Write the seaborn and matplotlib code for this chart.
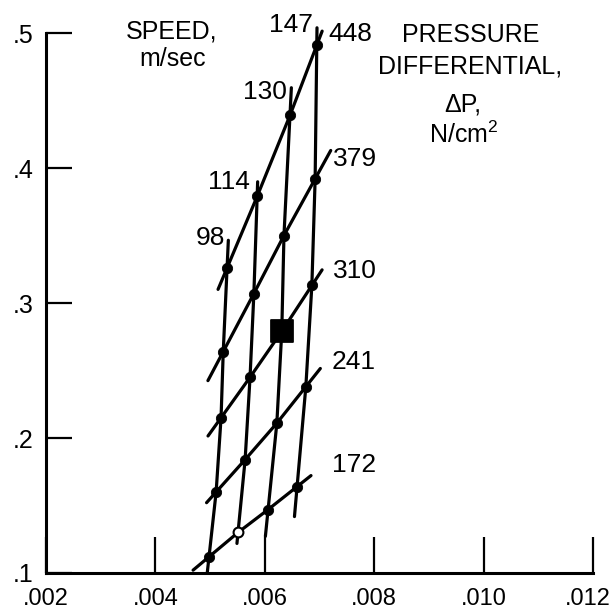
import matplotlib

matplotlib.use("Agg")
import matplotlib.pyplot as plt
import matplotlib.transforms as mtransforms
import numpy as np
import pandas as pd
import seaborn as sns

# carpet grid: speed lines (m/sec) x pressure-differential lines (N/cm^2)
speeds = [98, 114, 130, 147]
pressures = [172, 241, 310, 379, 448]

# x / y of each grid node, one list per speed, ordered by pressure
x_98 = [0.00498, 0.00511, 0.00520, 0.00524, 0.00531]
x_114 = [0.00551, 0.00564, 0.00573, 0.00580, 0.00586]
x_130 = [0.00606, 0.00622, 0.00631, 0.00635, 0.00646]
x_147 = [0.00659, 0.00675, 0.00686, 0.00692, 0.00695]
y_98 = [0.112, 0.160, 0.215, 0.264, 0.326]
y_114 = [0.130, 0.184, 0.245, 0.307, 0.379]
y_130 = [0.147, 0.211, 0.279, 0.350, 0.439]
y_147 = [0.164, 0.238, 0.313, 0.392, 0.491]

# the one open node and the design point (square)
open_node = (114, 172)
design_x = [0.00631]
design_y = [0.279]

x_ticks = [0.002, 0.004, 0.006, 0.008, 0.010, 0.012]
x_tick_labels = [".002", ".004", ".006", ".008", ".010", ".012"]
y_ticks = [0.1, 0.2, 0.3, 0.4, 0.5]
y_tick_labels = [".1", ".2", ".3", ".4", ".5"]

# how far each curve runs past its end nodes (fraction of end segment)
speed_ext = [(0.25, 0.33), (0.15, 0.15), (0.31, 0.23), (0.30, 0.13)]
pres_ext = [(0.55, 0.48), (0.33, 0.50), (0.45, 0.34), (0.50, 0.50), (0.30, 0.20)]

sns.set_theme(style="white")
plt.rcParams["font.family"] = ["Liberation Sans", "DejaVu Sans"]
plt.rcParams["text.color"] = "black"
plt.rcParams["mathtext.default"] = "regular"

X = np.array([x_98, x_114, x_130, x_147])
Y = np.array([y_98, y_114, y_130, y_147])


def extend(xs, ys, f0, f1):
    xs = np.asarray(xs)
    ys = np.asarray(ys)
    x0 = xs[0] - f0 * (xs[1] - xs[0])
    y0 = ys[0] - f0 * (ys[1] - ys[0])
    x1 = xs[-1] + f1 * (xs[-1] - xs[-2])
    y1 = ys[-1] + f1 * (ys[-1] - ys[-2])
    return np.r_[x0, xs, x1], np.r_[y0, ys, y1]


rows = []
for i, s in enumerate(speeds):
    ex, ey = extend(X[i], Y[i], *speed_ext[i])
    rows += [{"line": f"v{s}", "x": a, "y": b} for a, b in zip(ex, ey)]
for j, p in enumerate(pressures):
    ex, ey = extend(X[:, j], Y[:, j], *pres_ext[j])
    rows += [{"line": f"p{p}", "x": a, "y": b} for a, b in zip(ex, ey)]
lines = pd.DataFrame(rows)

nodes = pd.DataFrame(
    [
        {"speed": s, "dp": p, "x": X[i, j], "y": Y[i, j]}
        for i, s in enumerate(speeds)
        for j, p in enumerate(pressures)
    ]
)
hollow = (nodes["speed"] == open_node[0]) & (nodes["dp"] == open_node[1])

fig = plt.figure(figsize=(6.16, 6.15), dpi=100)
ax = fig.add_axes([0.0747, 0.0683, 0.888, 0.878])

sns.lineplot(
    data=lines, x="x", y="y", units="line", estimator=None, sort=False,
    color="black", lw=2.3, ax=ax, clip_on=False,
)
sns.scatterplot(
    data=nodes[~hollow], x="x", y="y", color="black", s=55,
    edgecolor="black", ax=ax, clip_on=False, zorder=3,
)
sns.scatterplot(
    data=nodes[hollow], x="x", y="y", facecolor="white", s=50,
    edgecolor="black", linewidth=1.5, ax=ax, zorder=3,
)
sns.scatterplot(
    x=design_x, y=design_y, marker="s", s=250, color="black",
    edgecolor="black", ax=ax, zorder=4,
)

# curve labels
for s, (tx, ty) in zip(speeds, [(0.00500, 0.348), (0.00535, 0.390), (0.00600, 0.456), (0.00648, 0.506)]):
    ax.text(tx, ty, str(s), fontsize=19, ha="center", va="center", clip_on=False)
for p, (tx, ty) in zip(pressures, [(0.00763, 0.180), (0.00763, 0.256), (0.00765, 0.324), (0.00765, 0.407), (0.00756, 0.499)]):
    ax.text(tx, ty, str(p), fontsize=19, ha="center", va="center", clip_on=False)

# legend-like headers
ax.text(0.00430, 0.501, "SPEED,", fontsize=18, ha="center", va="center")
ax.text(0.00432, 0.481, "m/sec", fontsize=18, ha="center", va="center")
ax.text(0.00977, 0.4987, "PRESSURE", fontsize=18, ha="center", va="center")
ax.text(0.00976, 0.475, "DIFFERENTIAL,", fontsize=18, ha="center", va="center")
ax.text(0.00961, 0.4468, "ΔP,", fontsize=18, ha="center", va="center")
ax.text(0.00963, 0.4245, "N/cm$^2$", fontsize=18, ha="center", va="center")

ax.set_xlim(0.002, 0.012)
ax.set_ylim(0.1, 0.5)
ax.set_xticks(x_ticks)
ax.set_xticklabels(x_tick_labels)
ax.set_yticks(y_ticks)
ax.set_yticklabels(y_tick_labels)
ax.set_xlabel("")
ax.set_ylabel("")
ax.tick_params(axis="x", bottom=True, direction="in", length=26, width=1.6,
               pad=11, labelsize=17, colors="black")
ax.tick_params(axis="y", left=True, direction="in", length=19, width=1.6,
               pad=9, labelsize=18, colors="black")
# nudge the last x label inside the figure edge
last = ax.get_xticklabels()[-1]
last.set_transform(last.get_transform()
                   + mtransforms.ScaledTranslation(-4 / 72, 0, fig.dpi_scale_trans))
for side in ["top", "right"]:
    ax.spines[side].set_visible(False)
for side in ["left", "bottom"]:
    ax.spines[side].set_linewidth(2.2)
    ax.spines[side].set_color("black")

fig.savefig("out.png", dpi=100)
